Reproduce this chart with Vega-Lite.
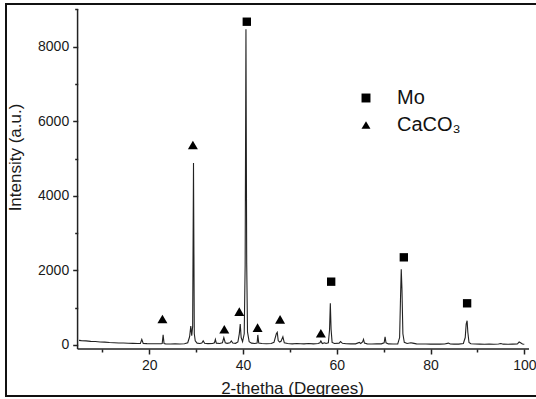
{
  "$schema": "https://vega.github.io/schema/vega-lite/v6.json",
  "width": 531,
  "height": 392,
  "padding": {"left": 6, "top": 4, "right": 0, "bottom": 3},
  "autosize": {"type": "none"},
  "background": "white",
  "config": {
    "view": {"stroke": "#111", "strokeWidth": 2},
    "axis": {"grid": false, "domain": false, "labelFont": "Liberation Sans", "titleFont": "Liberation Sans", "labelColor": "#1a1a1a", "titleColor": "#1a1a1a", "tickColor": "#222", "tickWidth": 1.5, "labelFontSize": 14, "titleFontSize": 17, "titleFontWeight": "normal"},
    "legend": {"labelFont": "Liberation Sans"}
  },
  "datasets": {
    "pattern": [
      {"two_theta": 5.0, "intensity": 125}, {"two_theta": 5.5, "intensity": 118}, {"two_theta": 6.5, "intensity": 110}, {"two_theta": 7.5, "intensity": 98},
      {"two_theta": 8.5, "intensity": 92}, {"two_theta": 9.5, "intensity": 80}, {"two_theta": 10.5, "intensity": 76}, {"two_theta": 11.5, "intensity": 66},
      {"two_theta": 12.5, "intensity": 62}, {"two_theta": 13.5, "intensity": 54}, {"two_theta": 14.5, "intensity": 52}, {"two_theta": 15.5, "intensity": 46},
      {"two_theta": 16.5, "intensity": 44}, {"two_theta": 17.5, "intensity": 40}, {"two_theta": 18.1, "intensity": 40}, {"two_theta": 18.4, "intensity": 150},
      {"two_theta": 18.7, "intensity": 42}, {"two_theta": 19.5, "intensity": 36}, {"two_theta": 20.5, "intensity": 34}, {"two_theta": 21.5, "intensity": 32},
      {"two_theta": 22.5, "intensity": 32}, {"two_theta": 22.75, "intensity": 40}, {"two_theta": 22.95, "intensity": 270}, {"two_theta": 23.15, "intensity": 40},
      {"two_theta": 23.5, "intensity": 30}, {"two_theta": 24.5, "intensity": 28}, {"two_theta": 25.5, "intensity": 30}, {"two_theta": 26.5, "intensity": 28},
      {"two_theta": 27.5, "intensity": 34}, {"two_theta": 28.2, "intensity": 60}, {"two_theta": 28.6, "intensity": 220}, {"two_theta": 28.85, "intensity": 510},
      {"two_theta": 29.05, "intensity": 250}, {"two_theta": 29.25, "intensity": 500}, {"two_theta": 29.43, "intensity": 4880}, {"two_theta": 29.6, "intensity": 300},
      {"two_theta": 29.8, "intensity": 110}, {"two_theta": 30.2, "intensity": 50}, {"two_theta": 30.8, "intensity": 40}, {"two_theta": 31.2, "intensity": 50},
      {"two_theta": 31.5, "intensity": 110}, {"two_theta": 31.8, "intensity": 45}, {"two_theta": 32.5, "intensity": 36}, {"two_theta": 33.5, "intensity": 40},
      {"two_theta": 33.9, "intensity": 60}, {"two_theta": 34.1, "intensity": 150}, {"two_theta": 34.3, "intensity": 50}, {"two_theta": 35.0, "intensity": 40},
      {"two_theta": 35.6, "intensity": 60}, {"two_theta": 35.9, "intensity": 200}, {"two_theta": 36.2, "intensity": 60}, {"two_theta": 36.6, "intensity": 45},
      {"two_theta": 37.2, "intensity": 60}, {"two_theta": 37.5, "intensity": 110}, {"two_theta": 37.8, "intensity": 55}, {"two_theta": 38.4, "intensity": 45},
      {"two_theta": 38.9, "intensity": 80}, {"two_theta": 39.2, "intensity": 300}, {"two_theta": 39.4, "intensity": 560}, {"two_theta": 39.6, "intensity": 200},
      {"two_theta": 39.9, "intensity": 90}, {"two_theta": 40.25, "intensity": 300}, {"two_theta": 40.45, "intensity": 2150}, {"two_theta": 40.62, "intensity": 8470},
      {"two_theta": 40.78, "intensity": 2200}, {"two_theta": 40.95, "intensity": 350}, {"two_theta": 41.3, "intensity": 90}, {"two_theta": 41.8, "intensity": 50},
      {"two_theta": 42.5, "intensity": 40}, {"two_theta": 43.0, "intensity": 50}, {"two_theta": 43.15, "intensity": 270}, {"two_theta": 43.35, "intensity": 50},
      {"two_theta": 44.0, "intensity": 40}, {"two_theta": 45.0, "intensity": 35}, {"two_theta": 46.0, "intensity": 40}, {"two_theta": 46.6, "intensity": 70},
      {"two_theta": 47.1, "intensity": 300}, {"two_theta": 47.3, "intensity": 340}, {"two_theta": 47.5, "intensity": 120}, {"two_theta": 47.8, "intensity": 80},
      {"two_theta": 48.1, "intensity": 100}, {"two_theta": 48.5, "intensity": 222}, {"two_theta": 48.8, "intensity": 60}, {"two_theta": 49.5, "intensity": 40},
      {"two_theta": 50.5, "intensity": 30}, {"two_theta": 51.5, "intensity": 40}, {"two_theta": 52.3, "intensity": 35}, {"two_theta": 53.0, "intensity": 30},
      {"two_theta": 54.0, "intensity": 38}, {"two_theta": 55.0, "intensity": 30}, {"two_theta": 56.0, "intensity": 40}, {"two_theta": 56.4, "intensity": 60},
      {"two_theta": 56.6, "intensity": 110}, {"two_theta": 56.9, "intensity": 40}, {"two_theta": 57.4, "intensity": 60}, {"two_theta": 57.7, "intensity": 40},
      {"two_theta": 58.2, "intensity": 60}, {"two_theta": 58.45, "intensity": 400}, {"two_theta": 58.62, "intensity": 1118}, {"two_theta": 58.78, "intensity": 420},
      {"two_theta": 59.0, "intensity": 70}, {"two_theta": 59.5, "intensity": 40}, {"two_theta": 60.5, "intensity": 50}, {"two_theta": 60.8, "intensity": 90},
      {"two_theta": 61.2, "intensity": 45}, {"two_theta": 62.0, "intensity": 35}, {"two_theta": 63.0, "intensity": 30}, {"two_theta": 64.0, "intensity": 30},
      {"two_theta": 64.8, "intensity": 70}, {"two_theta": 65.1, "intensity": 40}, {"two_theta": 65.5, "intensity": 80}, {"two_theta": 65.7, "intensity": 150},
      {"two_theta": 65.9, "intensity": 50}, {"two_theta": 66.5, "intensity": 30}, {"two_theta": 67.5, "intensity": 28}, {"two_theta": 68.5, "intensity": 30},
      {"two_theta": 69.5, "intensity": 30}, {"two_theta": 70.1, "intensity": 60}, {"two_theta": 70.3, "intensity": 222}, {"two_theta": 70.5, "intensity": 60},
      {"two_theta": 71.0, "intensity": 30}, {"two_theta": 72.0, "intensity": 28}, {"two_theta": 73.0, "intensity": 30}, {"two_theta": 73.4, "intensity": 200},
      {"two_theta": 73.6, "intensity": 1300}, {"two_theta": 73.75, "intensity": 2030}, {"two_theta": 73.9, "intensity": 1500}, {"two_theta": 74.1, "intensity": 300},
      {"two_theta": 74.4, "intensity": 70}, {"two_theta": 75.0, "intensity": 40}, {"two_theta": 75.8, "intensity": 60}, {"two_theta": 76.2, "intensity": 50},
      {"two_theta": 77.0, "intensity": 30}, {"two_theta": 78.0, "intensity": 25}, {"two_theta": 79.0, "intensity": 25}, {"two_theta": 80.0, "intensity": 22},
      {"two_theta": 81.0, "intensity": 24}, {"two_theta": 82.0, "intensity": 22}, {"two_theta": 83.0, "intensity": 25}, {"two_theta": 83.8, "intensity": 50},
      {"two_theta": 84.2, "intensity": 25}, {"two_theta": 85.0, "intensity": 22}, {"two_theta": 86.0, "intensity": 24}, {"two_theta": 87.0, "intensity": 40},
      {"two_theta": 87.4, "intensity": 200}, {"two_theta": 87.6, "intensity": 560}, {"two_theta": 87.8, "intensity": 650}, {"two_theta": 87.95, "intensity": 350},
      {"two_theta": 88.2, "intensity": 70}, {"two_theta": 88.6, "intensity": 35}, {"two_theta": 89.5, "intensity": 25}, {"two_theta": 90.5, "intensity": 22},
      {"two_theta": 91.5, "intensity": 20}, {"two_theta": 92.5, "intensity": 22}, {"two_theta": 93.5, "intensity": 20}, {"two_theta": 94.5, "intensity": 25},
      {"two_theta": 95.0, "intensity": 40}, {"two_theta": 95.5, "intensity": 22}, {"two_theta": 96.5, "intensity": 20}, {"two_theta": 97.5, "intensity": 22},
      {"two_theta": 98.5, "intensity": 25}, {"two_theta": 98.9, "intensity": 80}, {"two_theta": 99.2, "intensity": 60}, {"two_theta": 99.6, "intensity": 25},
      {"two_theta": 100.0, "intensity": 20}
    ],
    "markers": [
      {"phase": "Mo", "two_theta": 40.8, "intensity": 8670},
      {"phase": "Mo", "two_theta": 58.8, "intensity": 1698},
      {"phase": "Mo", "two_theta": 74.3, "intensity": 2351},
      {"phase": "Mo", "two_theta": 87.8, "intensity": 1118},
      {"phase": "CaCO₃", "two_theta": 22.8, "intensity": 697},
      {"phase": "CaCO₃", "two_theta": 29.3, "intensity": 5363},
      {"phase": "CaCO₃", "two_theta": 36.0, "intensity": 421},
      {"phase": "CaCO₃", "two_theta": 39.2, "intensity": 893},
      {"phase": "CaCO₃", "two_theta": 43.1, "intensity": 464},
      {"phase": "CaCO₃", "two_theta": 47.9, "intensity": 689},
      {"phase": "CaCO₃", "two_theta": 56.6, "intensity": 314}
    ]
  },
  "layer": [
    {
      "data": {"name": "pattern"},
      "mark": {"type": "line", "color": "#222", "strokeWidth": 1.1, "interpolate": "linear"},
      "encoding": {
        "x": {"field": "two_theta", "type": "quantitative",
              "scale": {"domain": [-10.57, 102.71], "nice": false, "zero": false},
              "axis": {"orient": "bottom", "offset": -47, "values": [20, 40, 60, 80, 100], "format": "d", "tickSize": 5, "labelPadding": 4,
                       "title": "2-thetha (Degrees)", "titleX": 286, "titleY": 44, "titleBaseline": "alphabetic", "titleAnchor": "middle", "titleAlign": "center"}},
        "y": {"field": "intensity", "type": "quantitative",
              "scale": {"domain": [-1368, 9145], "nice": false, "zero": false},
              "axis": {"orient": "left", "offset": -71.7, "values": [0, 2000, 4000, 6000, 8000], "format": "d", "tickSize": 5, "labelPadding": 4,
                       "title": "Intensity (a.u.)", "titleX": -57, "titleY": 153, "titleAngle": -90, "titleBaseline": "alphabetic", "titleAlign": "center"}}
      }
    },
    {
      "data": {"name": "markers"},
      "mark": {"type": "point", "filled": true, "color": "#000", "opacity": 1},
      "encoding": {
        "x": {"field": "two_theta", "type": "quantitative",
              "axis": {"orient": "bottom", "offset": -47, "values": [10, 30, 50, 70, 90], "tickSize": 3, "labels": false, "title": null}},
        "y": {"field": "intensity", "type": "quantitative",
              "axis": {"orient": "left", "offset": -71.7, "values": [1000, 3000, 5000, 7000, 9000], "tickSize": 3, "labels": false, "title": null}},
        "shape": {"field": "phase", "type": "nominal",
                  "scale": {"domain": ["Mo", "CaCO₃"], "range": ["square", "triangle-up"]},
                  "legend": {"orient": "none", "legendX": 350, "legendY": 84, "title": null, "symbolSize": 80, "symbolFillColor": "#000", "symbolStrokeWidth": 0,
                             "labelFontSize": 20, "labelColor": "#111", "labelOffset": 21, "rowPadding": 7, "padding": 0}},
        "size": {"condition": {"test": "datum.phase === 'Mo'", "value": 70}, "value": 100}
      }
    },
    {
      "data": {"values": [{}]},
      "mark": {"type": "rule", "color": "#222", "strokeWidth": 1.5},
      "encoding": {
        "x": {"datum": 4.7, "type": "quantitative", "axis": null},
        "x2": {"datum": 101},
        "y": {"datum": -107, "type": "quantitative", "axis": null}
      }
    },
    {
      "data": {"values": [{}]},
      "mark": {"type": "rule", "color": "#222", "strokeWidth": 1.5},
      "encoding": {
        "x": {"datum": 4.7, "type": "quantitative", "axis": null},
        "y": {"datum": -107, "type": "quantitative", "axis": null},
        "y2": {"datum": 9011}
      }
    }
  ],
  "resolve": {"axis": {"x": "independent", "y": "independent"}}
}
